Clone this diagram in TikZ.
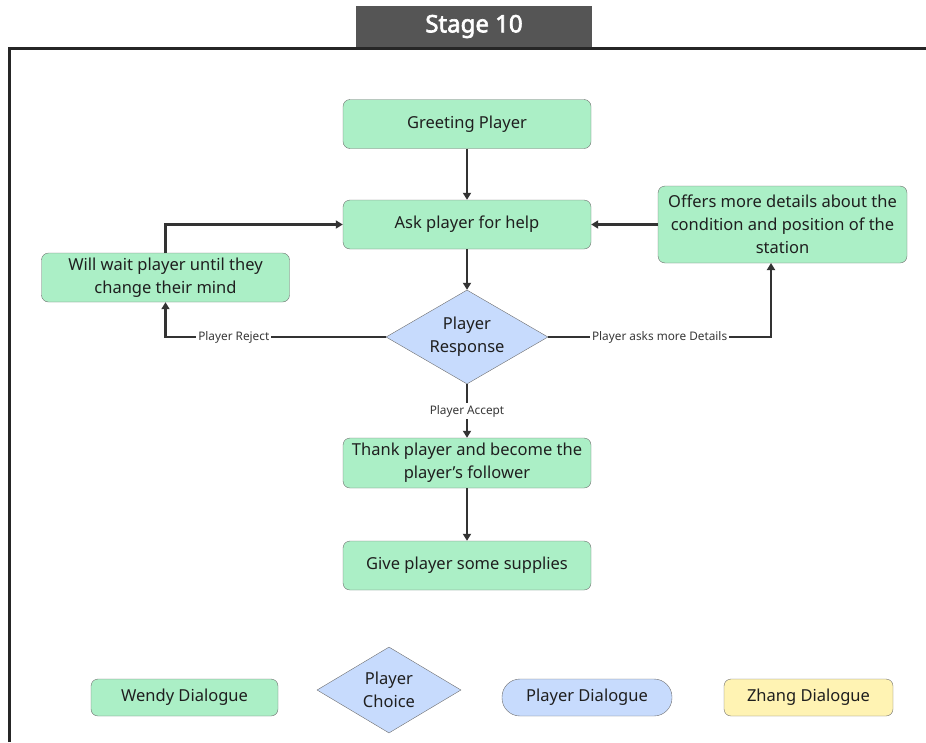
\documentclass[tikz,border=0pt]{standalone}
\usepackage{fontspec}
\setmainfont{Noto Sans}
\newfontfamily\stagefont{Noto Sans}[FakeBold=2.6]
\usetikzlibrary{shapes.geometric,arrows.meta}

\definecolor{wendyfill}{HTML}{ABEFC6}
\definecolor{playerfill}{HTML}{C7DBFD}
\definecolor{zhangfill}{HTML}{FFF3B3}
\definecolor{boxline}{HTML}{6E6E6E}
\definecolor{flowline}{HTML}{333333}
\definecolor{titlefill}{HTML}{555555}

\tikzset{
  wendy/.style={rectangle, rounded corners=7pt, draw=boxline, fill=wendyfill,
    minimum width=248pt, minimum height=49pt, align=center,
    inner sep=2pt, font=\fontsize{16.5}{23}\selectfont, text=black!88},
  choice/.style={diamond, aspect=1.72, draw=boxline, fill=playerfill, inner sep=0pt,
    minimum width=162pt, minimum height=94pt, align=center,
    font=\fontsize{16.5}{23}\selectfont, text=black!88},
  playerbox/.style={rectangle, rounded corners=18pt, draw=boxline, fill=playerfill,
    minimum width=170pt, minimum height=37pt, font=\fontsize{16.5}{20}\selectfont, text=black!88},
  zhang/.style={rectangle, rounded corners=7pt, draw=boxline, fill=zhangfill,
    minimum width=169pt, minimum height=37pt, font=\fontsize{16.5}{20}\selectfont, text=black!88},
  flow/.style={draw=flowline, line width=2.2pt, -{Triangle[length=7pt,width=8pt]}},
  edgelabel/.style={fill=white, inner sep=2pt, font=\fontsize{11.8}{13}\selectfont, text=black!78}
}

\begin{document}
\begin{tikzpicture}[x=1pt, y=-1pt]
  \useasboundingbox (0,0) rectangle (926,742);
  % frame and title
  \draw[line width=3pt, color=black!85] (9,742) -- (9,48) -- (926,48);
  \node[fill=titlefill, minimum width=236pt, minimum height=41pt, inner sep=0pt,
    text=white, font=\stagefont\fontsize{24}{26}\selectfont] (title) at (474,26.5) {Stage 10};

  % flow nodes
  \node[wendy] (greet) at (467,124) {Greeting Player};
  \node[wendy] (ask) at (467,224.5) {Ask player for help};
  \node[wendy, minimum width=249pt, minimum height=77pt] (offer) at (782.5,224.5)
    {Offers more details about the\\condition and position of the\\station};
  \node[wendy] (wait) at (165.5,277.5) {Will wait player until they\\change their mind};
  \node[choice] (resp) at (467,337) {Player\\Response};
  \node[wendy, minimum height=50pt] (thank) at (467,463)
    {Thank player and become the\\player's follower};
  \node[wendy] (give) at (467,565.5) {Give player some supplies};
  \coordinate (offerfoot) at (771,263);

  % legend
  \node[wendy, minimum width=187pt, minimum height=37pt] (legwendy) at (184.5,697.5) {Wendy Dialogue};
  \node[choice, aspect=1.67, minimum width=144pt, minimum height=86pt] (legchoice) at (389,690) {Player\\Choice};
  \node[playerbox] (legplayer) at (587,697.5) {Player Dialogue};
  \node[zhang] (legzhang) at (808.5,697.5) {Zhang Dialogue};

  % connectors
  \begin{scope}[flow]
    \draw (greet) to (ask);
    \draw (ask) to (resp);
    \draw (resp) to node[edgelabel, pos=0.5] {Player Accept} (thank);
    \draw (thank) to (give);
    \draw (offer) to (ask);
    \draw (wait.north) |- (ask.west);
    \draw (resp.west) -| node[edgelabel, pos=0.345] {Player Reject} (wait.south);
    \draw (resp.east) -| node[edgelabel, pos=0.25] {Player asks more Details} (offerfoot);
  \end{scope}
\end{tikzpicture}
\end{document}
